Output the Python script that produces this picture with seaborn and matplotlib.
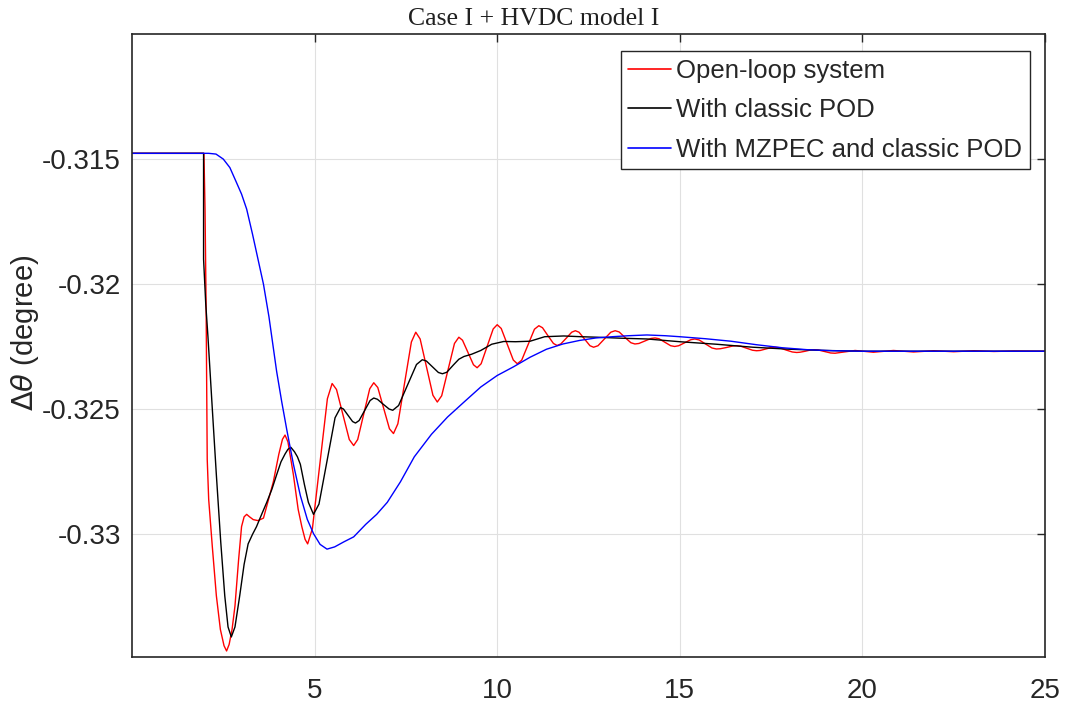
import numpy as np
import pandas as pd
import matplotlib
matplotlib.use("Agg")
from matplotlib import pyplot as plt
import seaborn as sns

# values (time in s, delta theta in degree)
t_open = [0, 1.97, 2.00, 2.03, 2.06, 2.10, 2.20, 2.31, 2.42, 2.52, 2.59, 2.66, 2.74, 2.82,
          2.92, 3.00, 3.07, 3.14, 3.22, 3.32, 3.45, 3.60, 3.72, 3.87, 4.02, 4.12, 4.19, 4.27,
          4.35, 4.42, 4.55, 4.65, 4.74, 4.81, 4.94, 5.145, 5.35, 5.48, 5.60, 5.775, 5.95,
          6.07, 6.18, 6.345, 6.51, 6.62, 6.73, 6.89, 7.05, 7.16, 7.28, 7.465, 7.65, 7.77,
          7.89, 8.065, 8.24, 8.36, 8.48, 8.655, 8.83, 8.95, 9.05, 9.20, 9.35, 9.45, 9.56,
          9.725, 9.89, 10.00, 10.11, 10.275, 10.44, 10.55, 10.67, 10.845, 11.02, 11.14, 11.24,
          11.39, 11.54, 11.64, 11.74, 11.89, 12.04, 12.14, 12.24, 12.39, 12.54, 12.64, 12.76,
          12.935, 13.11, 13.23, 13.34, 13.50, 13.66, 13.77, 13.88, 14.045, 14.21, 14.32, 14.43,
          14.59, 14.75, 14.86, 14.97, 15.135, 15.30, 15.41, 15.53, 15.705, 15.88, 16.00, 16.11,
          16.28, 16.45, 16.56, 16.67, 16.83, 16.99, 17.10, 17.20, 17.355, 17.51, 17.61, 17.73,
          17.905, 18.08, 18.20, 18.29, 18.435, 18.58, 18.67, 18.79, 18.96, 19.13, 19.25,
          19.80, 20.30, 20.85, 21.40, 21.95, 22.50, 23.05, 23.60, 24.15, 25.00]
y_open = [-0.31477, -0.31477, -0.3170, -0.3210, -0.3270, -0.3286, -0.3305, -0.33245, -0.3338,
          -0.33445, -0.33466, -0.3344, -0.3338, -0.33286, -0.3310, -0.32969, -0.3293, -0.3292,
          -0.3293, -0.32941, -0.32945, -0.32935, -0.3287, -0.3279, -0.3268, -0.3262, -0.32603,
          -0.3263, -0.3270, -0.32762, -0.3290, -0.32969, -0.3302, -0.33038, -0.32977, -0.32718,
          -0.32458, -0.32397, -0.32421, -0.32521, -0.32621, -0.32645, -0.32621, -0.3252,
          -0.32418, -0.32394, -0.32413, -0.32496, -0.32578, -0.32597, -0.32558, -0.32395,
          -0.32231, -0.32192, -0.32219, -0.32332, -0.32444, -0.32471, -0.32446, -0.32342,
          -0.32237, -0.32212, -0.32224, -0.32273, -0.32322, -0.32334, -0.32318, -0.32248,
          -0.32179, -0.32162, -0.32177, -0.3224, -0.32303, -0.32318, -0.32304, -0.32242,
          -0.3218, -0.32166, -0.32174, -0.32206, -0.32237, -0.32245, -0.32239, -0.32216,
          -0.32192, -0.32186, -0.32192, -0.32219, -0.32246, -0.32252, -0.32246, -0.32219,
          -0.32192, -0.32186, -0.32191, -0.32213, -0.32234, -0.32239, -0.32237, -0.32227,
          -0.32217, -0.32215, -0.32218, -0.32232, -0.32246, -0.32249, -0.32246, -0.32234,
          -0.32222, -0.32219, -0.32223, -0.32239, -0.32255, -0.32259, -0.32258, -0.32253,
          -0.32247, -0.32246, -0.32248, -0.32256, -0.32264, -0.32266, -0.32265, -0.32259,
          -0.32253, -0.32252, -0.32254, -0.32263, -0.32271, -0.32273, -0.32272, -0.32268,
          -0.32263, -0.32262, -0.32263, -0.32269, -0.32275, -0.32276, -0.32265, -0.32272,
          -0.32265, -0.32271, -0.32266, -0.3227, -0.32266, -0.32269, -0.32267, -0.32268]

t_pod = [0, 1.96, 1.96, 2.02, 2.08, 2.20, 2.31, 2.43, 2.54, 2.63, 2.72, 2.82, 2.95, 3.07, 3.18,
         3.30, 3.41, 3.55, 3.69, 3.83, 3.96, 4.08, 4.19, 4.27, 4.35, 4.45, 4.53, 4.61, 4.72,
         4.83, 4.97, 5.12, 5.34, 5.56, 5.71, 5.79, 5.915, 6.04, 6.12, 6.22, 6.37, 6.52, 6.62,
         6.72, 6.88, 7.04, 7.14, 7.30, 7.545, 7.79, 7.95, 8.06, 8.225, 8.39, 8.50, 8.62, 8.80,
         8.95, 9.09, 9.30, 9.55, 9.85, 10.18, 10.50, 10.90, 11.30, 11.82, 12.30, 12.73, 13.40,
         14.10, 15.00, 16.00, 17.00, 18.00, 19.00, 20.00, 25.00]
y_pod = [-0.31477, -0.31477, -0.3190, -0.3208, -0.3221, -0.3250, -0.32762, -0.3303, -0.33245,
         -0.3337, -0.3341, -0.3337, -0.33245, -0.3312, -0.33038, -0.3300, -0.32969, -0.3292,
         -0.32872, -0.3282, -0.32762, -0.3271, -0.32679, -0.3266, -0.32652, -0.3267, -0.3269,
         -0.3272, -0.3280, -0.32872, -0.3292, -0.32879, -0.32707, -0.32534, -0.32493, -0.32499,
         -0.32524, -0.32549, -0.32555, -0.32545, -0.32505, -0.32465, -0.32455, -0.3246,
         -0.3248, -0.32499, -0.32504, -0.32485, -0.32403, -0.32321, -0.32302, -0.32307,
         -0.3233, -0.32353, -0.32358, -0.32352, -0.32323, -0.32300, -0.32289, -0.3228,
         -0.32265, -0.3224, -0.32229, -0.3223, -0.32228, -0.3221, -0.32207, -0.3221, -0.32212,
         -0.32216, -0.32219, -0.3223, -0.3224, -0.32252, -0.3226, -0.32265, -0.32268, -0.32268]

t_mzpec = [0, 2.10, 2.30, 2.50, 2.68, 2.85, 3.00, 3.14, 3.30, 3.45, 3.60, 3.75, 3.96, 4.10,
           4.24, 4.42, 4.61, 4.80, 4.97, 5.15, 5.34, 5.55, 5.80, 6.07, 6.40, 6.70, 6.99, 7.35,
           7.73, 8.20, 8.64, 9.10, 9.55, 10.00, 10.45, 10.90, 11.35, 11.80, 12.25, 12.70,
           13.15, 13.60, 14.10, 14.60, 15.00, 15.70, 16.40, 17.10, 17.80, 18.50, 19.20, 20.00,
           25.00]
y_mzpec = [-0.31477, -0.31477, -0.3148, -0.3150, -0.31534, -0.3159, -0.3164, -0.3170, -0.3180,
           -0.3190, -0.3200, -0.3213, -0.32348, -0.3247, -0.32583, -0.3272, -0.32845, -0.3294,
           -0.32997, -0.3304, -0.33059, -0.3305, -0.3303, -0.3301, -0.3296, -0.3292, -0.32872,
           -0.3279, -0.3269, -0.3260, -0.32531, -0.3247, -0.32411, -0.32365, -0.3233, -0.32292,
           -0.3226, -0.32239, -0.32225, -0.32215, -0.3221, -0.32206, -0.32203, -0.32206, -0.3221,
           -0.32218, -0.32228, -0.32242, -0.32254, -0.32262, -0.32266, -0.32268, -0.32268]

labels = ["Open-loop system", "With classic POD", "With MZPEC and classic POD"]
colors = ["#ff0000", "#000000", "#0000ff"]

x_ticks = [5, 10, 15, 20, 25]
y_ticks = [-0.315, -0.32, -0.325, -0.33]
y_tick_labels = ["-0.315", "-0.32", "-0.325", "-0.33"]

frames = []
for lab, t, y in zip(labels, [t_open, t_pod, t_mzpec], [y_open, y_pod, y_mzpec]):
    frames.append(pd.DataFrame({"t": t, "y": y, "case": lab}))
df = pd.concat(frames, ignore_index=True)

sns.set_style("white")
plt.rcParams["font.family"] = ["Liberation Sans", "DejaVu Sans"]

fig = plt.figure(figsize=(10.67, 7.11), dpi=100)
ax = fig.add_axes([0.1237, 0.076, 0.8557, 0.8762])

sns.lineplot(data=df, x="t", y="y", hue="case", hue_order=labels, palette=colors,
             estimator=None, units="case", sort=False, linewidth=1.0, ax=ax)

ax.set_xlim(0, 25)
ax.set_ylim(-0.3349, -0.3100)
ax.set_xticks(x_ticks)
ax.set_xticklabels([str(v) for v in x_ticks])
ax.set_yticks(y_ticks)
ax.set_yticklabels(y_tick_labels)
ax.grid(True, color="#e0e0e0", linewidth=0.8)
ax.tick_params(direction="in", length=6, width=1, labelsize=20, top=True, right=True,
               colors="#262626")
ax.tick_params(axis="x", pad=15)
ax.tick_params(axis="y", pad=8)
for s in ax.spines.values():
    s.set_color("#262626")
    s.set_linewidth(1.2)

ax.set_xlabel("")
ax.set_ylabel(r"$\Delta\theta$ (degree)", fontsize=21, color="#262626")
ax.yaxis.set_label_coords(-0.100, 0.52)
fig.text(0.5, 1 - 25 / 711, "Case I + HVDC model I", fontsize=18.5,
         family="Liberation Serif", ha="center", va="baseline", color="#202020")

leg = ax.legend(loc="upper right", bbox_to_anchor=(0.9836, 0.9727), fontsize=18.5,
                handlelength=1.67, handletextpad=0.2, labelspacing=0.6,
                borderpad=0.3, borderaxespad=0, fancybox=False, framealpha=1,
                edgecolor="#262626")
leg.get_frame().set_linewidth(1.0)
for h in leg.get_lines():
    h.set_linewidth(1.2)

fig.savefig("out.png", dpi=100)
